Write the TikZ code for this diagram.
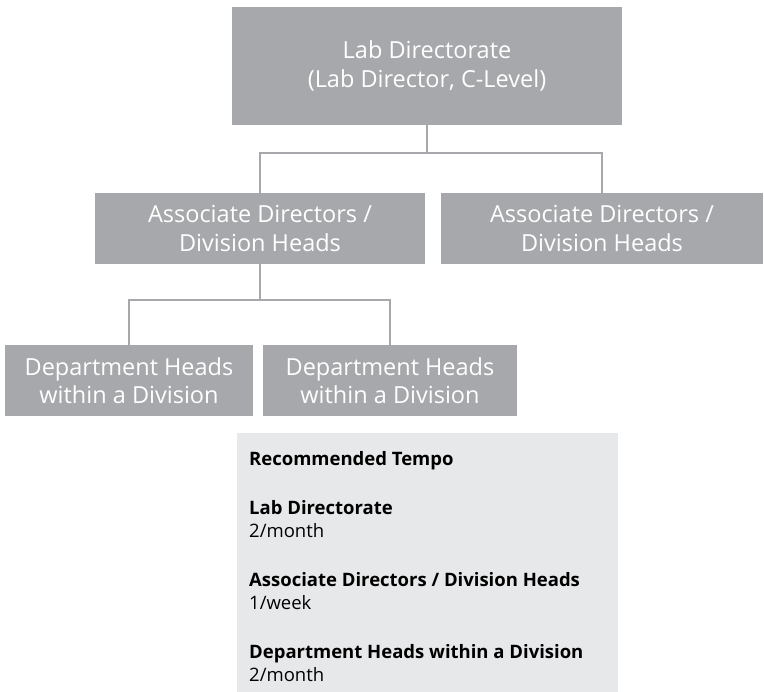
\documentclass[tikz,border=0pt]{standalone}
\usepackage{fontspec}
\setmainfont{Open Sans}
\definecolor{boxgray}{HTML}{A7A8AB}
\definecolor{tempogray}{HTML}{E7E8EA}
\begin{document}
\begin{tikzpicture}[x=1pt,y=-1pt,
  orgbox/.style={fill=boxgray, draw=none, text=white, align=center,
    inner sep=0pt, font=\fontsize{23.5}{28.5}\selectfont},
  link/.style={draw=boxgray, line width=2pt}]
\useasboundingbox (0,0) rectangle (764,692);
\node[orgbox, minimum width=390, minimum height=118] (top) at (427,66)
  {Lab Directorate\\(Lab Director, C-Level)};
\node[orgbox, minimum width=330, minimum height=71] (ml) at (260,228.5)
  {Associate Directors /\\Division Heads};
\node[orgbox, minimum width=322, minimum height=71] (mr) at (602,228.5)
  {Associate Directors /\\Division Heads};
\node[orgbox, minimum width=248, minimum height=71] (bl) at (129,380.5)
  {Department Heads\\within a Division};
\node[orgbox, minimum width=254, minimum height=71] (br) at (390,380.5)
  {Department Heads\\within a Division};
\coordinate (j1) at (427,153);
\coordinate (j2) at (260,300);
\draw[link] (top.south) -- (j1) -| (ml.north);
\draw[link] (j1) -| (mr.north);
\draw[link] (ml.south) -- (j2) -| (bl.north);
\draw[link] (j2) -| (br.north);
\node[fill=tempogray, anchor=north west, minimum width=381, minimum height=259, inner sep=0pt] (tempo) at (236.5,433) {};
\node[anchor=north west, align=left, inner sep=0pt, text=black,
  font=\fontsize{18.5}{23}\selectfont] (tt) at (249,451)
  {\textbf{Recommended Tempo}\\[26pt]
   \textbf{Lab Directorate}\\
   2/month\\[26pt]
   \textbf{Associate Directors / Division Heads}\\
   1/week\\[26pt]
   \textbf{Department Heads within a Division}\\
   2/month};
\end{tikzpicture}
\end{document}
